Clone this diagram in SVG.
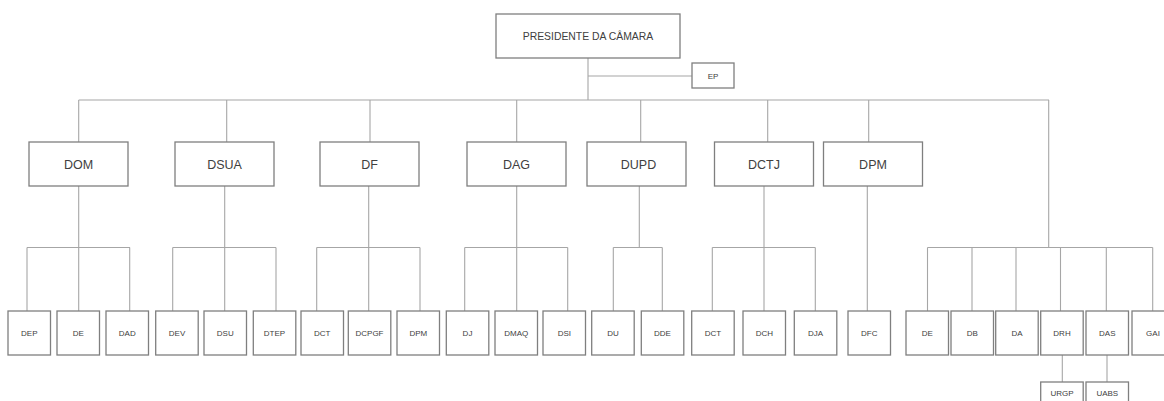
<svg xmlns="http://www.w3.org/2000/svg" width="1164" height="401" viewBox="0 0 1164 401">
<style>
.b{fill:#fff;stroke:#7f7f7f;stroke-width:1.3}
.c{fill:none;stroke:#a6a6a6;stroke-width:1.1}
text{font-family:"Liberation Sans",Arial,sans-serif;fill:#404040;text-anchor:middle}
.t0{font-size:10.4px}
.t1{font-size:12.5px}
.t2{font-size:8px}
</style>
<rect width="1164" height="401" fill="#fff"/>
<g id="connectors" class="c">
<path d="M588 58V100M588 76H692M78.7 100H1049"/>
<path d="M78.7 100V142M226.7 100V142M370 100V142M516.7 100V142M640.7 100V142M767.7 100V142M868.7 100V142M1048.7 100V247.5"/>
<path d="M78.7 186V247.5M27 247.5H130M27 247.5V311M78.7 247.5V311M129.7 247.5V311"/>
<path d="M224.7 186V247.5M172.7 247.5H276M172.7 247.5V311M224.7 247.5V311M276 247.5V311"/>
<path d="M368.7 186V247.5M316.7 247.5H420M316.7 247.5V311M368.7 247.5V311M420 247.5V311"/>
<path d="M516.7 186V247.5M464.7 247.5H567.7M464.7 247.5V311M516.7 247.5V311M567.7 247.5V311"/>
<path d="M639.3 186V247.5M613.3 247.5H662.3M613.3 247.5V311M662.3 247.5V311"/>
<path d="M764 186V247.5M712.3 247.5H815.3M712.3 247.5V311M764 247.5V311M815.3 247.5V311"/>
<path d="M867.3 186V311"/>
<path d="M927.5 247.5H1152.7M927.5 247.5V311M972 247.5V311M1016 247.5V311M1060.5 247.5V311M1106.3 247.5V311M1152.7 247.5V311"/>
<path d="M1062.3 355V382M1107 355V382"/>
</g>
<g id="n-pres"><rect class="b" x="496" y="14" width="184" height="44"/><text class="t0" x="588" y="40">PRESIDENTE DA CÂMARA</text></g>
<g id="n-ep"><rect class="b" x="692" y="63" width="42" height="25"/><text class="t2" x="713" y="78.5">EP</text></g>
<g id="n-dom"><rect class="b" x="29" y="142" width="99" height="44"/><text class="t1" x="78.5" y="168.5">DOM</text></g>
<g id="n-dsua"><rect class="b" x="175" y="142" width="99" height="44"/><text class="t1" x="224.5" y="168.5">DSUA</text></g>
<g id="n-df"><rect class="b" x="320" y="142" width="99" height="44"/><text class="t1" x="369.5" y="168.5">DF</text></g>
<g id="n-dag"><rect class="b" x="467" y="142" width="99" height="44"/><text class="t1" x="516.5" y="168.5">DAG</text></g>
<g id="n-dupd"><rect class="b" x="587" y="142" width="99" height="44"/><text class="t1" x="638.5" y="168.5">DUPD</text></g>
<g id="n-dctj"><rect class="b" x="714.5" y="142" width="99" height="44"/><text class="t1" x="764" y="168.5">DCTJ</text></g>
<g id="n-dpm"><rect class="b" x="823.5" y="142" width="99" height="44"/><text class="t1" x="873" y="168.5">DPM</text></g>
<g id="n-dep"><rect class="b" x="8" y="311" width="42.5" height="44"/><text class="t2" x="29.3" y="336">DEP</text></g>
<g id="n-de1"><rect class="b" x="57" y="311" width="42.5" height="44"/><text class="t2" x="78.3" y="336">DE</text></g>
<g id="n-dad"><rect class="b" x="106" y="311" width="42.5" height="44"/><text class="t2" x="127.3" y="336">DAD</text></g>
<g id="n-dev"><rect class="b" x="155.7" y="311" width="42.5" height="44"/><text class="t2" x="177" y="336">DEV</text></g>
<g id="n-dsu"><rect class="b" x="204" y="311" width="42.5" height="44"/><text class="t2" x="225.3" y="336">DSU</text></g>
<g id="n-dtep"><rect class="b" x="253.3" y="311" width="42.5" height="44"/><text class="t2" x="274.5" y="336">DTEP</text></g>
<g id="n-dct1"><rect class="b" x="301" y="311" width="42.5" height="44"/><text class="t2" x="322.3" y="336">DCT</text></g>
<g id="n-dcpgf"><rect class="b" x="348.3" y="311" width="42.5" height="44"/><text class="t2" x="369.5" y="336">DCPGF</text></g>
<g id="n-dpm2"><rect class="b" x="397" y="311" width="42.5" height="44"/><text class="t2" x="418.3" y="336">DPM</text></g>
<g id="n-dj"><rect class="b" x="446.3" y="311" width="42.5" height="44"/><text class="t2" x="467.5" y="336">DJ</text></g>
<g id="n-dmaq"><rect class="b" x="495" y="311" width="42.5" height="44"/><text class="t2" x="516.3" y="336">DMAQ</text></g>
<g id="n-dsi"><rect class="b" x="543" y="311" width="42.5" height="44"/><text class="t2" x="564.3" y="336">DSI</text></g>
<g id="n-du"><rect class="b" x="591.7" y="311" width="42.5" height="44"/><text class="t2" x="613" y="336">DU</text></g>
<g id="n-dde"><rect class="b" x="641.3" y="311" width="42.5" height="44"/><text class="t2" x="662.5" y="336">DDE</text></g>
<g id="n-dct2"><rect class="b" x="691.7" y="311" width="42.5" height="44"/><text class="t2" x="713" y="336">DCT</text></g>
<g id="n-dch"><rect class="b" x="743" y="311" width="42.5" height="44"/><text class="t2" x="764.3" y="336">DCH</text></g>
<g id="n-dja"><rect class="b" x="794.3" y="311" width="42.5" height="44"/><text class="t2" x="815.5" y="336">DJA</text></g>
<g id="n-dfc"><rect class="b" x="848" y="311" width="42.5" height="44"/><text class="t2" x="869.3" y="336">DFC</text></g>
<g id="n-de2"><rect class="b" x="906" y="311" width="42.5" height="44"/><text class="t2" x="927.3" y="336">DE</text></g>
<g id="n-db"><rect class="b" x="951" y="311" width="42.5" height="44"/><text class="t2" x="972.3" y="336">DB</text></g>
<g id="n-da"><rect class="b" x="995.7" y="311" width="42.5" height="44"/><text class="t2" x="1017" y="336">DA</text></g>
<g id="n-drh"><rect class="b" x="1040.7" y="311" width="42.5" height="44"/><text class="t2" x="1062" y="336">DRH</text></g>
<g id="n-das"><rect class="b" x="1086" y="311" width="42.5" height="44"/><text class="t2" x="1107.3" y="336">DAS</text></g>
<g id="n-gai"><rect class="b" x="1132" y="311" width="42.5" height="44"/><text class="t2" x="1153" y="336">GAI</text></g>
<g id="n-urgp"><rect class="b" x="1040.7" y="382" width="42.5" height="30"/><text class="t2" x="1062" y="396">URGP</text></g>
<g id="n-uabs"><rect class="b" x="1086" y="382" width="42.5" height="30"/><text class="t2" x="1107.3" y="396">UABS</text></g>
</svg>
